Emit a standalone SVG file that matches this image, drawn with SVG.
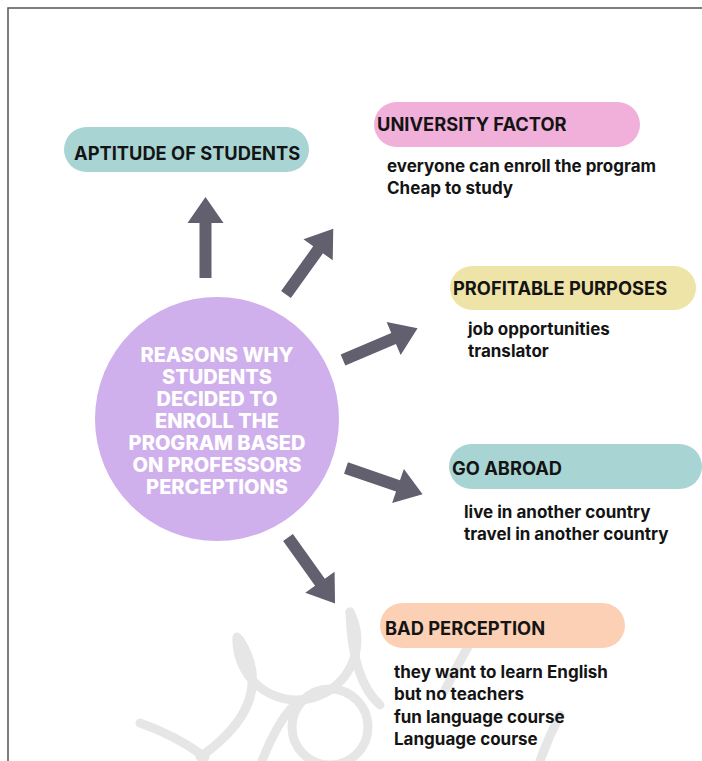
<svg xmlns="http://www.w3.org/2000/svg" width="702" height="761" viewBox="0 0 702 761">
<style>
.pill-t{font-family:Inter,"Liberation Sans",sans-serif;font-weight:700;font-size:18.3px;fill:#141414}
.body-t{font-family:Inter,"Liberation Sans",sans-serif;font-weight:700;font-size:17px;fill:#141414}
.ctr-t{font-family:Inter,"Liberation Sans",sans-serif;font-weight:800;font-size:20px;fill:#ffffff;text-anchor:middle}
.arrow{fill:#625f6e}
.wm{fill:none;stroke:#e6e6e6;stroke-width:9;stroke-linecap:round}
</style>
<defs>
<polygon id="arr" points="0,-6 55,-6 55,-18 81,0 55,18 55,6 0,6"/>
</defs>
<rect x="0" y="0" width="702" height="761" fill="#ffffff"/>
<path d="M8,761 V8 H702" fill="none" stroke="#555555" stroke-width="1.5"/>
<g id="watermark">
<path class="wm" d="M237,637 A60,60 0 1,0 350,612"/>
<circle class="wm" cx="330" cy="727" r="38"/>
<path class="wm" d="M240,640 Q278,702 200,757"/>
<path class="wm" d="M140,723 Q175,735 205,757"/>
<path class="wm" d="M350,612 Q352,680 380,705"/>
<path class="wm" d="M470,643 Q455,670 445,690"/>
<path class="wm" d="M560,715 Q548,738 540,761"/>
<path class="wm" d="M262,761 Q280,715 300,700"/>
</g>
<g id="connectors">
<use href="#arr" class="arrow" transform="translate(205.5,278) rotate(-90)"/>
<use href="#arr" class="arrow" transform="translate(286,294.5) rotate(-54.3)"/>
<use href="#arr" class="arrow" transform="translate(343,360) rotate(-23)"/>
<use href="#arr" class="arrow" transform="translate(346,468) rotate(19)"/>
<use href="#arr" class="arrow" transform="translate(288,537.5) rotate(54.5)"/>
</g>
<g id="center">
<circle cx="217" cy="419" r="122" fill="#cfb0ec"/>
<text class="ctr-t" x="217" y="362">REASONS WHY</text>
<text class="ctr-t" x="217" y="384">STUDENTS</text>
<text class="ctr-t" x="217" y="406">DECIDED TO</text>
<text class="ctr-t" x="217" y="428">ENROLL THE</text>
<text class="ctr-t" x="217" y="450">PROGRAM BASED</text>
<text class="ctr-t" x="217" y="472">ON PROFESSORS</text>
<text class="ctr-t" x="217" y="494">PERCEPTIONS</text>
</g>
<g id="aptitude">
<rect x="64" y="127" width="245" height="45" rx="22.5" fill="#a9d4d4"/>
<text class="pill-t" x="74" y="160">APTITUDE OF STUDENTS</text>
</g>
<g id="university">
<rect x="374" y="102" width="266" height="45" rx="22.5" fill="#f0b0da"/>
<text class="pill-t" x="377" y="131">UNIVERSITY FACTOR</text>
<text class="body-t" x="387" y="172">everyone can enroll the program</text>
<text class="body-t" x="387" y="194">Cheap to study</text>
</g>
<g id="profitable">
<rect x="450" y="266" width="246" height="44" rx="22" fill="#efe4a8"/>
<text class="pill-t" x="453" y="295">PROFITABLE PURPOSES</text>
<text class="body-t" x="468" y="335">job opportunities</text>
<text class="body-t" x="468" y="357">translator</text>
</g>
<g id="abroad">
<rect x="449" y="444" width="253" height="45" rx="22.5" fill="#a9d4d4"/>
<text class="pill-t" x="452" y="475">GO ABROAD</text>
<text class="body-t" x="464" y="518">live in another country</text>
<text class="body-t" x="464" y="540">travel in another country</text>
</g>
<g id="bad">
<rect x="380" y="603" width="245" height="45" rx="22.5" fill="#fcd0b4"/>
<text class="pill-t" x="385" y="635">BAD PERCEPTION</text>
<text class="body-t" x="394" y="678">they want to learn English</text>
<text class="body-t" x="394" y="700">but no teachers</text>
<text class="body-t" x="394" y="723">fun language course</text>
<text class="body-t" x="394" y="745">Language course</text>
</g>
</svg>
